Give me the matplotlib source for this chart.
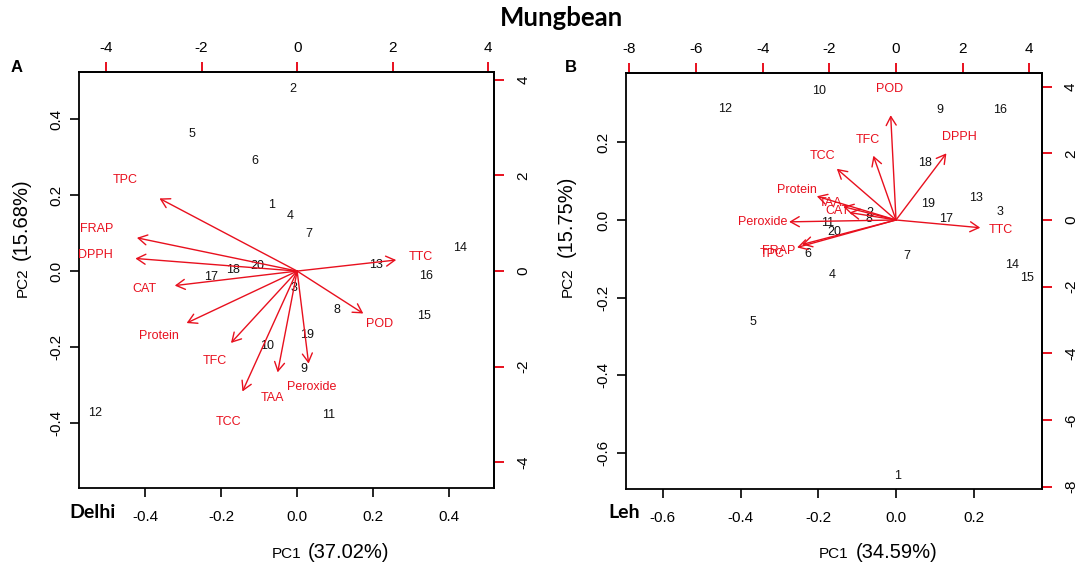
import matplotlib
matplotlib.use("Agg")
import matplotlib.pyplot as plt
from matplotlib.ticker import FormatStrFormatter

plt.rcParams["font.family"] = ["Liberation Sans", "DejaVu Sans"]
plt.rcParams["axes.unicode_minus"] = False

# sample ids and variables
samples = ["1", "2", "3", "4", "5", "6", "7", "8", "9", "10",
           "11", "12", "13", "14", "15", "16", "17", "18", "19", "20"]
variables = ["TPC", "FRAP", "DPPH", "CAT", "Protein", "TFC", "TCC", "TAA", "Peroxide", "POD", "TTC"]

# Delhi scores (bottom / left axes)
delhi_pc1 = [-0.067, -0.011, -0.008, -0.018, -0.277, -0.111, 0.032, 0.105, 0.018, -0.080,
             0.083, -0.532, 0.208, 0.429, 0.334, 0.339, -0.227, -0.169, 0.025, -0.105]
delhi_pc2 = [0.175, 0.479, -0.045, 0.145, 0.362, 0.289, 0.097, -0.103, -0.258, -0.197,
             -0.379, -0.373, 0.016, 0.062, -0.118, -0.013, -0.015, 0.003, -0.168, 0.013]
# Delhi loadings (top / right axes)
delhi_load1 = [-3.60, -4.19, -4.23, -3.20, -2.89, -1.73, -1.43, -0.51, 0.30, 1.73, 2.59]
delhi_load2 = [1.90, 0.87, 0.33, -0.38, -1.36, -1.88, -3.15, -2.65, -2.42, -1.11, 0.29]

# Leh scores
leh_pc1 = [0.003, -0.067, 0.268, -0.165, -0.369, -0.228, 0.029, -0.069, 0.113, -0.197,
           -0.177, -0.440, 0.205, 0.298, 0.338, 0.268, 0.130, 0.075, 0.083, -0.159]
leh_pc2 = [-0.659, 0.018, 0.021, -0.141, -0.262, -0.088, -0.093, 0.003, 0.283, 0.332,
           -0.008, 0.285, 0.056, -0.117, -0.148, 0.283, 0.002, 0.146, 0.041, -0.030]
# Leh loadings
leh_load1 = [-3.71, -3.53, 1.89, -1.75, -2.97, -0.85, -2.22, -1.98, -4.01, -0.20, 3.16]
leh_load2 = [-1.03, -0.92, 2.50, 0.28, 0.89, 2.41, 1.92, 0.50, -0.07, 3.93, -0.29]

RED = "#e8101e"
W, H = 1084, 575


def biplot(ax, pc1, pc2, load1, load2, ratio, xlim, ylim, xticks, yticks, top_ticks, right_ticks):
    ax.set_xlim(xlim)
    ax.set_ylim(ylim)
    for s, x, y in zip(samples, pc1, pc2):
        ax.text(x, y, s, ha="center", va="center", fontsize=9, color="#111111")
    for name, lx, ly in zip(variables, load1, load2):
        x, y = lx / ratio, ly / ratio
        ax.annotate("", xy=(0.8 * x, 0.8 * y), xytext=(0, 0),
                    arrowprops=dict(arrowstyle="->,head_length=0.63,head_width=0.36",
                                    mutation_scale=10, color=RED, lw=1.0,
                                    shrinkA=0, shrinkB=0))
        ax.text(x, y, name, ha="center", va="center", fontsize=9, color=RED)

    ax.set_xticks(xticks)
    ax.set_yticks(yticks)
    ax.xaxis.set_major_formatter(FormatStrFormatter("%.1f"))
    ax.yaxis.set_major_formatter(FormatStrFormatter("%.1f"))
    ax.tick_params(length=6.5, width=1.2, labelsize=11, color="black")
    ax.tick_params(axis="x", pad=9)
    ax.tick_params(axis="y", pad=5)
    plt.setp(ax.get_yticklabels(), rotation=90, va="center")
    for sp in ax.spines.values():
        sp.set_linewidth(1.3)

    top = ax.secondary_xaxis("top", functions=(lambda v: v * ratio, lambda v: v / ratio))
    top.set_xticks(top_ticks)
    top.xaxis.set_major_formatter(FormatStrFormatter("%d"))
    top.tick_params(length=7, width=1.4, color=RED, labelsize=11, pad=5)
    top.spines["top"].set_linewidth(1.3)

    right = ax.secondary_yaxis("right", functions=(lambda v: v * ratio, lambda v: v / ratio))
    right.set_yticks(right_ticks)
    right.yaxis.set_major_formatter(FormatStrFormatter("%d"))
    right.tick_params(length=7, width=1.4, color=RED, labelsize=11, pad=9)
    right.spines["right"].set_linewidth(1.3)
    plt.setp(right.get_yticklabels(), rotation=90, va="center")


fig = plt.figure(figsize=(W / 100, H / 100), dpi=100)
ax1 = fig.add_axes([79 / W, 1 - 488 / H, 415 / W, 416 / H])
ax2 = fig.add_axes([626 / W, 1 - 489.3 / H, 415.7 / W, 416.6 / H])

biplot(ax1, delhi_pc1, delhi_pc2, delhi_load1, delhi_load2, 7.95,
       (-0.574, 0.518), (-0.571, 0.524),
       [-0.4, -0.2, 0.0, 0.2, 0.4], [-0.4, -0.2, 0.0, 0.2, 0.4],
       [-4, -2, 0, 2, 4], [-4, -2, 0, 2, 4])
biplot(ax2, leh_pc1, leh_pc2, leh_load1, leh_load2, 11.66,
       (-0.695, 0.375), (-0.693, 0.379),
       [-0.6, -0.4, -0.2, 0.0, 0.2], [-0.6, -0.4, -0.2, 0.0, 0.2],
       [-8, -6, -4, -2, 0, 2, 4], [-8, -6, -4, -2, 0, 2, 4])


def ftext(x, y, s, **kw):
    fig.text(x / W, 1 - y / H, s, **kw)


ftext(561, 18, "Mungbean", ha="center", va="center", fontsize=18.5,
      fontweight="bold", family=["Lato", "DejaVu Sans"])
ftext(17, 68, "A", ha="center", va="center", fontsize=12, fontweight="bold")
ftext(571, 68, "B", ha="center", va="center", fontsize=12, fontweight="bold")
ftext(69, 512, "Delhi", ha="left", va="center", fontsize=14, fontweight="bold",
      family=["Lato", "DejaVu Sans"])
ftext(608, 513, "Leh", ha="left", va="center", fontsize=14, fontweight="bold",
      family=["Lato", "DejaVu Sans"])

# axis titles: small "PC" part and larger percentage part
ftext(272, 558, "PC1", ha="left", va="baseline", fontsize=11)
ftext(308, 558, "(37.02%)", ha="left", va="baseline", fontsize=14.5)
ftext(819, 558, "PC1", ha="left", va="baseline", fontsize=11)
ftext(856, 558, "(34.59%)", ha="left", va="baseline", fontsize=14.5)

ftext(27, 297, "PC2", ha="left", va="baseline", rotation=90, rotation_mode="anchor", fontsize=11)
ftext(27, 260, "(15.68%)", ha="left", va="baseline", rotation=90, rotation_mode="anchor", fontsize=14.5)
ftext(572, 297, "PC2", ha="left", va="baseline", rotation=90, rotation_mode="anchor", fontsize=11)
ftext(572, 257, "(15.75%)", ha="left", va="baseline", rotation=90, rotation_mode="anchor", fontsize=14.5)

fig.savefig("out.png", dpi=100)
